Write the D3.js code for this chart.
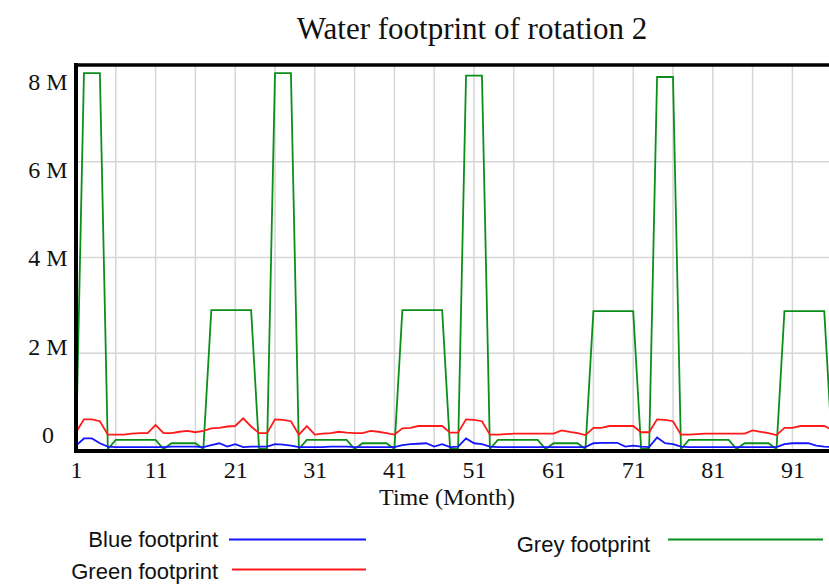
<!DOCTYPE html>
<html>
<head>
<meta charset="utf-8">
<script src="https://cdn.jsdelivr.net/npm/d3@7"></script>
<style>
  html, body { margin: 0; padding: 0; background: #fff; }
  svg { display: block; }
</style>
</head>
<body>
<svg id="chart" width="829" height="585"></svg>
<script>
// Monthly water footprint of rotation 2 (values in millions of m³)
const blueFootprint = [
  0.07, 0.22, 0.22, 0.12, 0.05, 0.04, 0.04, 0.04, 0.04, 0.04,
  0.04, 0.04, 0.05, 0.05, 0.05, 0.05, 0.04, 0.08, 0.12, 0.05,
  0.10, 0.04, 0.05, 0.05, 0.05, 0.10, 0.09, 0.07, 0.04, 0.04,
  0.04, 0.04, 0.05, 0.05, 0.05, 0.04, 0.04, 0.04, 0.04, 0.04,
  0.04, 0.08, 0.10, 0.11, 0.12, 0.05, 0.10, 0.04, 0.05, 0.22,
  0.12, 0.10, 0.05, 0.04, 0.04, 0.04, 0.04, 0.04, 0.04, 0.04,
  0.04, 0.04, 0.04, 0.04, 0.04, 0.12, 0.13, 0.13, 0.13, 0.05,
  0.07, 0.05, 0.04, 0.24, 0.12, 0.10, 0.05, 0.04, 0.04, 0.04,
  0.04, 0.04, 0.04, 0.04, 0.04, 0.04, 0.04, 0.04, 0.04, 0.10,
  0.12, 0.12, 0.12, 0.07, 0.05, 0.04, 0.04
];
const greenFootprint = [
  0.35, 0.62, 0.62, 0.58, 0.30, 0.30, 0.30, 0.32, 0.33, 0.33,
  0.50, 0.33, 0.33, 0.36, 0.38, 0.35, 0.38, 0.43, 0.44, 0.47,
  0.48, 0.64, 0.47, 0.33, 0.33, 0.62, 0.61, 0.58, 0.30, 0.48,
  0.30, 0.32, 0.33, 0.36, 0.34, 0.33, 0.33, 0.38, 0.36, 0.33,
  0.30, 0.43, 0.44, 0.48, 0.48, 0.48, 0.48, 0.34, 0.34, 0.62,
  0.61, 0.58, 0.30, 0.30, 0.31, 0.32, 0.32, 0.32, 0.32, 0.32,
  0.32, 0.39, 0.36, 0.33, 0.29, 0.44, 0.44, 0.48, 0.48, 0.48,
  0.48, 0.35, 0.35, 0.62, 0.61, 0.58, 0.30, 0.30, 0.31, 0.32,
  0.32, 0.32, 0.32, 0.32, 0.32, 0.39, 0.36, 0.33, 0.29, 0.44,
  0.44, 0.48, 0.48, 0.48, 0.48, 0.40, 0.38
];
const greyFootprint = [
  0.00, 7.85, 7.85, 7.85, 0.00, 0.19, 0.19, 0.19, 0.19, 0.19,
  0.19, 0.00, 0.12, 0.12, 0.12, 0.12, 0.00, 2.90, 2.90, 2.90,
  2.90, 2.90, 2.90, 0.00, 0.00, 7.85, 7.85, 7.85, 0.00, 0.19,
  0.19, 0.19, 0.19, 0.19, 0.19, 0.00, 0.12, 0.12, 0.12, 0.12,
  0.00, 2.90, 2.90, 2.90, 2.90, 2.90, 2.90, 0.00, 0.00, 7.80,
  7.80, 7.80, 0.00, 0.19, 0.19, 0.19, 0.19, 0.19, 0.19, 0.00,
  0.12, 0.12, 0.12, 0.12, 0.00, 2.88, 2.88, 2.88, 2.88, 2.88,
  2.88, 0.00, 0.00, 7.77, 7.77, 7.77, 0.00, 0.19, 0.19, 0.19,
  0.19, 0.19, 0.19, 0.00, 0.12, 0.12, 0.12, 0.12, 0.00, 2.88,
  2.88, 2.88, 2.88, 2.88, 2.88, 0.00, 0.00
];

const xTickLabels = [1, 11, 21, 31, 41, 51, 61, 71, 81, 91];
const xGridMonths = [6, 11, 16, 21, 26, 31, 36, 41, 46, 51, 56, 61, 66, 71, 76, 81, 86, 91, 96];
const yTickValues = [0, 2, 4, 6, 8];
const yTickLabels = ["0", "2 M", "4 M", "6 M", "8 M"];

const seriesList = [
  { name: "Blue footprint",  values: blueFootprint,  color: "#1414ff" },
  { name: "Green footprint", values: greenFootprint, color: "#ff1a1a" },
  { name: "Grey footprint",  values: greyFootprint,  color: "#0b8f1a" }
];

const svg = d3.select("#chart");

const x = d3.scaleLinear().domain([1, 97]).range([76, 76 + 96 * 7.96]);
const y = d3.scaleLinear().domain([0, 8]).range([449, 66]);
// Value labels are spread evenly inside the frame, a little apart from the gridlines
const yLabel = d3.scaleLinear().domain([0, 8]).range([434, 81]);

// Gridlines
const grid = svg.append("g").attr("stroke", "#d6d6d6").attr("stroke-width", 1.5);
grid.selectAll("line.v").data(xGridMonths).join("line")
  .attr("class", "v")
  .attr("x1", d => x(d)).attr("x2", d => x(d))
  .attr("y1", y(8)).attr("y2", y(0));
grid.selectAll("line.h").data([2, 4, 6]).join("line")
  .attr("class", "h")
  .attr("x1", x(1)).attr("x2", 829)
  .attr("y1", d => y(d)).attr("y2", d => y(d));

// Series lines
const line = d3.line()
  .x((d, i) => x(i + 1))
  .y(d => y(d));

svg.append("g").selectAll("path").data(seriesList.slice().reverse()).join("path")
  .attr("d", s => line(s.values))
  .attr("fill", "none")
  .attr("stroke", s => s.color)
  .attr("stroke-width", 1.8)
  .attr("stroke-linejoin", "miter");

// Frame: thick top, left and bottom edges
const frame = svg.append("g").attr("stroke", "#000").attr("fill", "none");
frame.append("line")
  .attr("x1", x(1) - 2).attr("x2", 840)
  .attr("y1", y(8) - 1).attr("y2", y(8) - 1)
  .attr("stroke-width", 3.5);
frame.append("line")
  .attr("x1", x(1)).attr("x2", x(1))
  .attr("y1", y(8) - 3).attr("y2", y(0) + 4)
  .attr("stroke-width", 4);
frame.append("line")
  .attr("x1", x(1) - 2).attr("x2", 840)
  .attr("y1", y(0) + 2).attr("y2", y(0) + 2)
  .attr("stroke-width", 4);

// X axis tick labels
const xAxis = d3.axisBottom(x)
  .tickValues(xTickLabels)
  .tickSize(0)
  .tickPadding(0)
  .tickFormat(d3.format("d"));
const gx = svg.append("g")
  .attr("transform", "translate(0,478)")
  .call(xAxis);
gx.select(".domain").remove();
gx.selectAll("text")
  .attr("dy", 0)
  .attr("y", 0)
  .attr("font-family", "'Liberation Serif', 'Times New Roman', serif")
  .attr("font-size", 24)
  .attr("fill", "#111");

// Y axis labels, centred in the margin
const yAxis = d3.axisLeft(yLabel)
  .tickValues(yTickValues)
  .tickSize(0)
  .tickPadding(0)
  .tickFormat((d, i) => yTickLabels[i]);
const gy = svg.append("g")
  .attr("transform", "translate(48,0)")
  .call(yAxis);
gy.select(".domain").remove();
gy.selectAll("text")
  .attr("dy", "0.35em")
  .attr("text-anchor", "middle")
  .attr("font-family", "'Liberation Serif', 'Times New Roman', serif")
  .attr("font-size", 24)
  .attr("fill", "#111");

// Axis title
svg.append("text")
  .attr("x", 447).attr("y", 505)
  .attr("text-anchor", "middle")
  .attr("font-family", "'Liberation Serif', 'Times New Roman', serif")
  .attr("font-size", 24)
  .attr("fill", "#111")
  .text("Time (Month)");

// Chart title
svg.append("text")
  .attr("x", 472).attr("y", 39)
  .attr("text-anchor", "middle")
  .attr("font-family", "'Liberation Serif', 'Times New Roman', serif")
  .attr("font-size", 31)
  .attr("fill", "#111")
  .text("Water footprint of rotation 2");

// Legend
const legendItems = [
  { s: seriesList[0], tx: 218, ty: 547, x1: 229, x2: 366, ly: 539.5 },
  { s: seriesList[1], tx: 218, ty: 579, x1: 232, x2: 366, ly: 569.5 },
  { s: seriesList[2], tx: 650, ty: 552, x1: 668, x2: 823, ly: 539.5 }
];
const lg = svg.append("g");
lg.selectAll("text").data(legendItems).join("text")
  .attr("x", d => d.tx).attr("y", d => d.ty)
  .attr("text-anchor", "end")
  .attr("font-family", "'Liberation Sans', Arial, sans-serif")
  .attr("font-size", 22)
  .attr("fill", "#111")
  .text(d => d.s.name);
lg.selectAll("line").data(legendItems).join("line")
  .attr("x1", d => d.x1).attr("x2", d => d.x2)
  .attr("y1", d => d.ly).attr("y2", d => d.ly)
  .attr("stroke", d => d.s.color)
  .attr("stroke-width", 2);
</script>
</body>
</html>
